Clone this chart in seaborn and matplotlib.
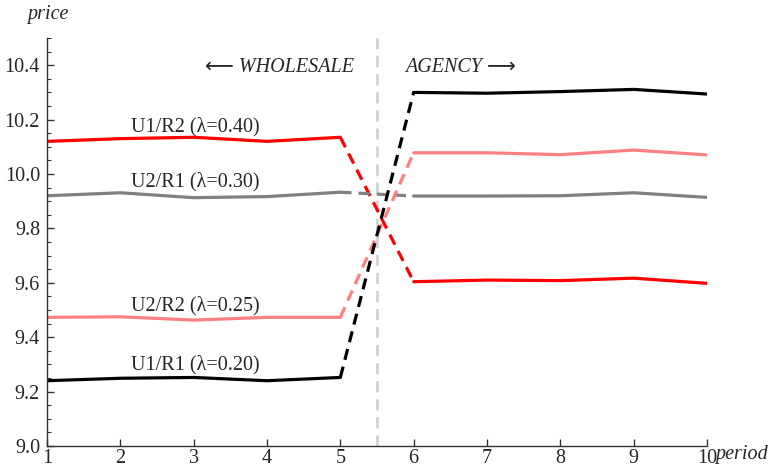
import matplotlib
matplotlib.use("Agg")
import matplotlib.pyplot as plt
import seaborn as sns
import pandas as pd

periods = [1, 2, 3, 4, 5, 6, 7, 8, 9, 10]
u1r2 = [10.12, 10.13, 10.135, 10.12, 10.135, 9.604, 9.61, 9.608, 9.617, 9.598]
u2r1 = [9.92, 9.931, 9.913, 9.917, 9.933, 9.919, 9.919, 9.92, 9.931, 9.914]
u2r2 = [9.473, 9.475, 9.463, 9.473, 9.473, 10.078, 10.078, 10.071, 10.088, 10.07]
u1r1 = [9.24, 9.249, 9.252, 9.24, 9.252, 10.30, 10.297, 10.303, 10.311, 10.294]
series_names = ["U1/R2 (λ=0.40)", "U2/R1 (λ=0.30)", "U2/R2 (λ=0.25)", "U1/R1 (λ=0.20)"]
series_vals = [u1r2, u2r1, u2r2, u1r1]
colors = ["#ff0000", "#808080", "#ff8080", "#000000"]
label_y = [10.175, 9.972, 9.515, 9.298]

sns.set_theme(style="ticks")
plt.rcParams['font.family'] = ['Liberation Serif', 'DejaVu Sans']
FS = 14.5

fig = plt.figure(figsize=(7.77, 4.70), dpi=100)
ax = fig.add_axes([47/777, 1-446/470, 660/777, (446-38)/470])

for name, vals, c in zip(series_names, series_vals, colors):
    df = pd.DataFrame({"period": periods, "price": vals})
    sns.lineplot(data=df.iloc[:5], x="period", y="price", color=c, lw=2.3, ax=ax)
    sns.lineplot(data=df.iloc[5:], x="period", y="price", color=c, lw=2.3, ax=ax)
    seg = sns.lineplot(data=df.iloc[4:6], x="period", y="price", color=c, lw=2.3, ax=ax)
    seg.lines[-1].set_dashes((3.5, 2.2))

ax.axvline(5.5, color="#d3d3d3", lw=2, ls=(0, (4, 2.5)), zorder=0)

for name, ly in zip(series_names, label_y):
    ax.text(2.15, ly, name, fontsize=FS, va="center", ha="left")

ax.text(3.15, 10.392, "⟵ WHOLESALE", fontsize=FS, va="center", ha="left", style="italic")
ax.text(5.88, 10.392, "AGENCY ⟶", fontsize=FS, va="center", ha="left", style="italic")

ax.set_xlim(1, 10)
ax.set_ylim(9.0, 10.5)
ax.set_xticks(periods)
ax.set_yticks([9.0, 9.2, 9.4, 9.6, 9.8, 10.0, 10.2, 10.4])
ax.set_yticklabels(["9.0", "9.2", "9.4", "9.6", "9.8", "10.0", "10.2", "10.4"])
ax.set_yticks([9.0 + 0.05*i for i in range(31)], minor=True)
ax.tick_params(axis="both", direction="in", labelsize=FS, length=5, width=1, color="#333333")
ax.tick_params(axis="y", which="minor", direction="in", length=3, width=0.8, color="#333333")
ax.tick_params(axis="x", pad=2)
ax.tick_params(axis="y", pad=5)
for s in ["top", "right"]:
    ax.spines[s].set_visible(False)
for s in ["left", "bottom"]:
    ax.spines[s].set_color("#333333")
    ax.spines[s].set_linewidth(1)
ax.set_xlabel("")
ax.set_ylabel("")
fig.text(27/777, 1-15/470, "price", fontsize=FS, style="italic", va="center", ha="left")
fig.text(715/777, 1-454/470, "period", fontsize=FS, style="italic", va="center", ha="left")

fig.savefig("out.png", dpi=100)
